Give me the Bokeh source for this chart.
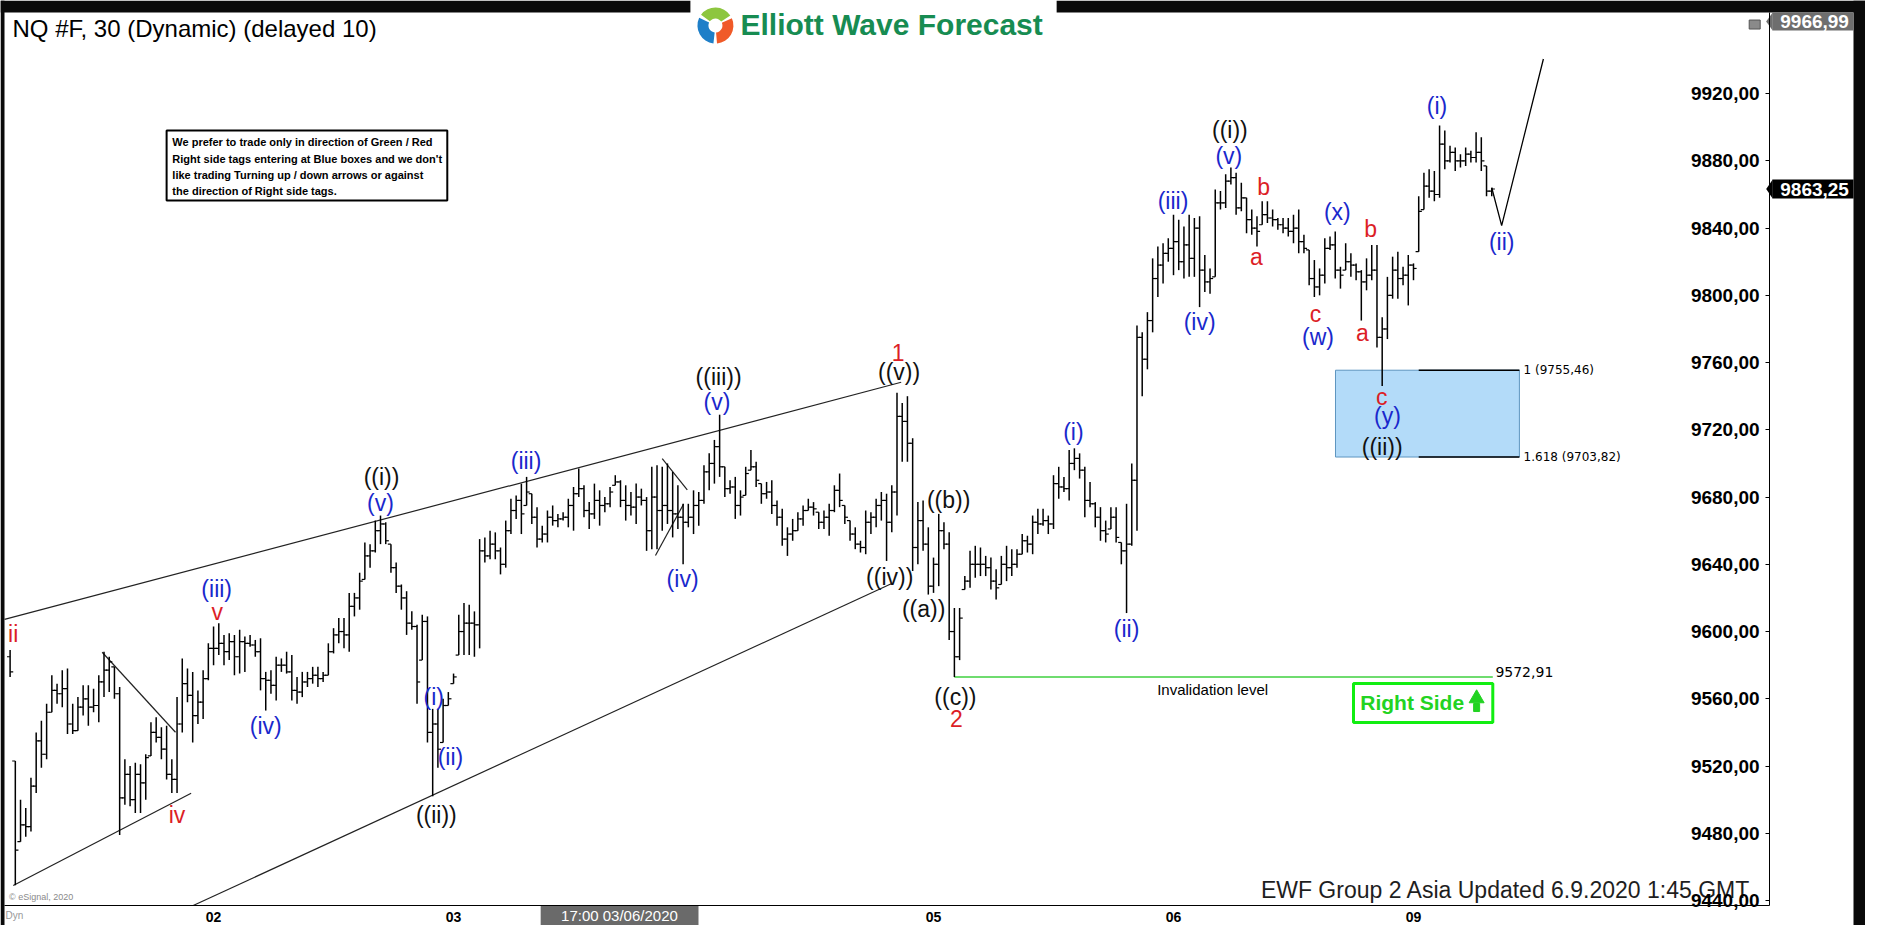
from bokeh.plotting import figure
from bokeh.models import Range1d, FixedTicker, ColumnDataSource
from bokeh.core.properties import value
from bokeh.embed import file_html
from bokeh.resources import INLINE

# ---------------- data (30-minute bars) ----------------
highs = [
    9589, 9523, 9500, 9495, 9513, 9540, 9547, 9557, 9574, 9569,
    9577, 9578, 9557, 9561, 9568, 9568, 9566, 9574, 9588, 9585,
    9579, 9567, 9524, 9520, 9522, 9521, 9527, 9546, 9549, 9543,
    9544, 9524, 9561, 9584, 9578, 9576, 9565, 9577, 9593, 9603,
    9605, 9598, 9599, 9598, 9601, 9597, 9598, 9595, 9596, 9576,
    9577, 9585, 9584, 9588, 9586, 9573, 9576, 9576, 9579, 9579,
    9576, 9593, 9602, 9608, 9608, 9623, 9623, 9635, 9653, 9652,
    9666, 9669, 9665, 9652, 9641, 9628, 9624, 9612, 9604, 9610,
    9609, 9554, 9554, 9560, 9564, 9575, 9610, 9617, 9616, 9612,
    9655, 9656, 9660, 9659, 9650, 9666, 9679, 9681, 9688, 9692,
    9682, 9674, 9663, 9672, 9675, 9670, 9671, 9679, 9686, 9697,
    9687, 9677, 9688, 9684, 9680, 9686, 9693, 9690, 9687, 9683,
    9688, 9685, 9680, 9698, 9699, 9698, 9700, 9695, 9687, 9676,
    9676, 9684, 9683, 9699, 9706, 9714, 9729, 9698, 9690, 9692,
    9684, 9698, 9708, 9701, 9688, 9689, 9690, 9678, 9673, 9662,
    9667, 9671, 9675, 9679, 9677, 9671, 9672, 9676, 9687, 9694,
    9675, 9666, 9662, 9654, 9672, 9671, 9679, 9683, 9682, 9687,
    9742, 9736, 9740, 9715, 9677, 9678, 9662, 9644, 9670, 9665,
    9659, 9614, 9614, 9633, 9648, 9651, 9650, 9645, 9644, 9637,
    9645, 9651, 9649, 9649, 9658, 9657, 9669, 9673, 9673, 9669,
    9693, 9698, 9692, 9708, 9709, 9706, 9698, 9689, 9677, 9674,
    9666, 9674, 9674, 9653, 9676, 9700, 9782, 9778, 9790, 9822,
    9829, 9831, 9834, 9848, 9845, 9841, 9848, 9846, 9847, 9824,
    9816, 9863, 9862, 9872, 9876, 9873, 9867, 9858, 9851, 9847,
    9856, 9856, 9851, 9846, 9846, 9846, 9848, 9851, 9836, 9827,
    9821, 9816, 9834, 9835, 9838, 9817, 9831, 9825, 9819, 9815,
    9822, 9830, 9830, 9787, 9811, 9823, 9826, 9817, 9824, 9819,
    9859, 9873, 9875, 9874, 9901, 9898, 9889, 9888, 9884, 9888,
    9886, 9897, 9894, 9877, 9864,
]
lows = [
    9573, 9449, 9475, 9478, 9481, 9504, 9519, 9524, 9552, 9557,
    9555, 9539, 9539, 9541, 9550, 9544, 9552, 9546, 9561, 9564,
    9560, 9479, 9497, 9496, 9492, 9492, 9500, 9526, 9534, 9524,
    9512, 9504, 9504, 9540, 9558, 9534, 9545, 9548, 9571, 9580,
    9586, 9580, 9583, 9574, 9575, 9576, 9591, 9585, 9565, 9553,
    9563, 9559, 9576, 9575, 9559, 9557, 9561, 9567, 9569, 9567,
    9570, 9574, 9587, 9593, 9590, 9588, 9609, 9613, 9631, 9638,
    9647, 9652, 9652, 9635, 9623, 9613, 9598, 9601, 9557, 9583,
    9534, 9502, 9519, 9534, 9556, 9569, 9586, 9586, 9586, 9585,
    9590, 9641, 9643, 9643, 9634, 9638, 9658, 9667, 9658, 9675,
    9664, 9650, 9653, 9653, 9663, 9662, 9666, 9662, 9660, 9680,
    9668, 9661, 9667, 9663, 9671, 9674, 9687, 9674, 9666, 9669,
    9664, 9675, 9648, 9649, 9649, 9660, 9664, 9656, 9661, 9640,
    9662, 9658, 9663, 9676, 9684, 9688, 9692, 9680, 9682, 9667,
    9669, 9681, 9696, 9686, 9676, 9679, 9670, 9663, 9651, 9645,
    9654, 9660, 9663, 9672, 9669, 9661, 9661, 9657, 9671, 9674,
    9664, 9654, 9649, 9647, 9646, 9658, 9662, 9666, 9642, 9659,
    9669, 9701, 9701, 9636, 9640, 9648, 9622, 9623, 9627, 9649,
    9595, 9572.91, 9583, 9625, 9626, 9632, 9633, 9633, 9625, 9619,
    9628, 9630, 9633, 9638, 9646, 9647, 9646, 9658, 9663, 9658,
    9661, 9679, 9683, 9678, 9696, 9691, 9668, 9674, 9662, 9654,
    9653, 9661, 9653, 9640, 9611, 9651, 9660, 9740, 9756, 9778,
    9799, 9807, 9820, 9812, 9815, 9810, 9811, 9811, 9793, 9802,
    9801, 9811, 9851, 9852, 9866, 9848, 9850, 9837, 9836, 9829,
    9842, 9843, 9841, 9839, 9837, 9835, 9831, 9825, 9825, 9806,
    9799, 9800, 9807, 9827, 9810, 9804, 9815, 9811, 9809, 9785,
    9803, 9809, 9769, 9746, 9774, 9798, 9798, 9806, 9794, 9809,
    9826, 9851, 9858, 9856, 9858, 9875, 9879, 9874, 9876, 9877,
    9879, 9879, 9874, 9859, 9859,
]
closes = [
    9576, 9470, 9485, 9484, 9508, 9535, 9527, 9552, 9565, 9563,
    9566, 9545, 9541, 9555, 9560, 9555, 9556, 9570, 9577, 9582,
    9563, 9501, 9515, 9500, 9515, 9510, 9525, 9540, 9537, 9530,
    9515, 9512, 9545, 9569, 9562, 9550, 9558, 9572, 9590, 9590,
    9593, 9588, 9594, 9585, 9594, 9593, 9592, 9588, 9572, 9571,
    9568, 9580, 9580, 9576, 9565, 9564, 9570, 9572, 9574, 9572,
    9574, 9588, 9598, 9600, 9598, 9615, 9620, 9630, 9645, 9648,
    9660, 9664, 9654, 9638, 9627, 9620, 9605, 9603, 9570, 9606,
    9540, 9545, 9530, 9556, 9560, 9573, 9600, 9605, 9605, 9604,
    9648, 9645, 9652, 9648, 9640, 9660, 9672, 9678, 9670, 9683,
    9668, 9655, 9658, 9668, 9666, 9667, 9668, 9675, 9682, 9685,
    9672, 9670, 9678, 9675, 9676, 9683, 9689, 9678, 9675, 9674,
    9680, 9678, 9660, 9680, 9672, 9675, 9672, 9670, 9668, 9665,
    9668, 9675, 9678, 9695, 9700, 9710, 9698, 9685, 9686, 9675,
    9680, 9694, 9698, 9690, 9682, 9683, 9675, 9668, 9655, 9658,
    9660, 9667, 9672, 9674, 9673, 9665, 9668, 9672, 9684, 9678,
    9668, 9658, 9652, 9650, 9665, 9668, 9675, 9678, 9665, 9683,
    9728, 9725, 9712, 9650, 9666, 9652, 9627, 9640, 9660, 9652,
    9600, 9585, 9608, 9630, 9640, 9640, 9640, 9638, 9630, 9626,
    9640, 9638, 9640, 9646, 9654, 9652, 9665, 9664, 9666, 9664,
    9688, 9686, 9685, 9700, 9703, 9696, 9678, 9676, 9668, 9660,
    9658, 9668, 9656, 9648, 9652, 9690, 9775, 9762, 9785, 9810,
    9818, 9825, 9828, 9832, 9820, 9830, 9822, 9840, 9815, 9808,
    9810, 9855, 9855, 9868, 9870, 9852, 9858, 9845, 9840, 9838,
    9848, 9846, 9845, 9842, 9840, 9838, 9840, 9832, 9828, 9810,
    9805, 9812, 9828, 9830, 9815, 9812, 9820, 9818, 9814, 9808,
    9812, 9815, 9775, 9780, 9800, 9815, 9810, 9812, 9818, 9816,
    9850, 9865, 9862, 9860, 9890, 9880, 9885, 9880, 9880, 9884,
    9882, 9885, 9880, 9862, 9863.25,
]
first_open = 9585
assert len(highs) == len(lows) == len(closes) == 285

day_ticks = [39, 85, 177, 223, 269]
day_labels = ["02", "03", "05", "06", "09"]
price_ticks = [9440, 9480, 9520, 9560, 9600, 9640, 9680, 9720, 9760, 9800, 9840, 9880, 9920]
price_labels = ["9440,00", "9480,00", "9520,00", "9560,00", "9600,00", "9640,00", "9680,00",
                "9720,00", "9760,00", "9800,00", "9840,00", "9880,00", "9920,00"]

wave_text = ["ii", "(iii)", "v", "iv", "(iv)", "((i))", "(v)", "(iii)", "(i)", "(ii)", "((ii))",
             "((iii))", "(v)", "(iv)", "1", "((v))", "((iv))", "((b))", "((a))", "((c))", "2",
             "(i)", "(ii)", "(iii)", "(iv)", "((i))", "(v)", "b", "a", "(x)", "b", "c", "(w)",
             "a", "c", "(y)", "((ii))", "(i)", "(ii)"]
wave_x = [0.6, 39.6, 39.7, 32.0, 49.0, 71.2, 71.0, 98.9, 81.2, 84.4, 81.7,
          135.8, 135.5, 128.9, 170.2, 170.4, 168.6, 179.9, 175.1, 181.2, 181.4,
          203.8, 214.0, 222.9, 228.0, 233.8, 233.6, 240.3, 238.9, 254.4, 260.8, 250.2, 250.7,
          259.2, 262.9, 264.0, 263.0, 273.5, 285.9]
wave_y = [9598.8, 9625.4, 9611.5, 9490.6, 9544.1, 9692.2, 9676.4, 9701.7, 9560.9, 9525.2, 9490.6,
          9751.3, 9736.4, 9631.4, 9766.2, 9754.3, 9632.3, 9678.0, 9613.5, 9560.9, 9548.0,
          9718.6, 9601.6, 9856.4, 9784.4, 9898.1, 9882.6, 9864.3, 9822.7, 9849.4, 9839.6, 9789.0, 9775.1,
          9777.5, 9739.8, 9728.1, 9709.7, 9912.7, 9831.6]
RED, BLUE, BLK = "#dc1e26", "#1a28cc", "#111111"
wave_color = [RED, BLUE, RED, RED, BLUE, BLK, BLUE, BLUE, BLUE, BLUE, BLK,
              BLK, BLUE, BLUE, RED, BLK, BLK, BLK, BLK, BLK, RED,
              BLUE, BLUE, BLUE, BLUE, BLK, BLUE, RED, RED, BLUE, RED, RED, BLUE,
              RED, RED, BLUE, BLK, BLUE, BLUE]

notice_lines = ["We prefer to trade only in direction of Green / Red",
                "Right side tags entering at Blue boxes and we don't",
                "like trading Turning up / down arrows or against",
                "the direction of Right side tags."]
notice_y = [9891.1, 9881.2, 9871.3, 9861.8]

fib_levels = [9755.46, 9703.82]
fib_labels = ["1 (9755,46)", "1.618 (9703,82)"]
invalidation = 9572.91
last_price = 9863.25
top_price_text = "9966,99"

# ---------------- figure: the frame covers the whole canvas ----------------
X0, X1 = -1.840, 355.64          # bar-index range across the canvas
Y0, Y1 = 9425.13, 9975.40        # price range across the canvas
AX_X = 337.25                    # where the price axis sits
AX_Y = 9437.03                   # where the date axis sits

p = figure(width=1865, height=925, x_range=Range1d(X0, X1), y_range=Range1d(Y0, Y1),
           output_backend="svg", toolbar_location=None,
           min_border_left=0, min_border_top=0, min_border_right=0, min_border_bottom=0)
p.grid.visible = False
p.outline_line_color = None
p.background_fill_color = "white"
p.border_fill_color = "white"

p.yaxis.fixed_location = AX_X
p.yaxis.bounds = (AX_Y, 9968.25)
p.yaxis.ticker = FixedTicker(ticks=price_ticks)
p.yaxis.major_label_overrides = dict(zip(price_ticks, price_labels))
p.yaxis.major_label_text_font = "Liberation Sans"
p.yaxis.major_label_text_font_size = "19px"
p.yaxis.major_label_text_font_style = "bold"
p.yaxis.major_label_text_color = "black"
p.yaxis.major_tick_out = 4
p.yaxis.major_tick_in = 0
p.yaxis.major_label_standoff = 6
p.yaxis.minor_tick_line_color = None
p.yaxis.axis_line_color = "black"
p.yaxis.major_label_orientation = "horizontal"

p.xaxis.fixed_location = AX_Y
p.xaxis.bounds = (-1.073, AX_X)
p.xaxis.ticker = FixedTicker(ticks=day_ticks)
p.xaxis.major_label_overrides = dict(zip(day_ticks, day_labels))
p.xaxis.major_label_text_font = "Liberation Sans"
p.xaxis.major_label_text_font_size = "14px"
p.xaxis.major_label_text_font_style = "bold"
p.xaxis.major_label_text_color = "black"
p.xaxis.major_tick_line_color = None
p.xaxis.minor_tick_line_color = None
p.xaxis.major_label_standoff = 1
p.xaxis.axis_line_color = "black"

# dark outer frame
p.quad(left=[X0, 200.6, X0, 353.34], right=[130.4, X1, -1.073, X1],
       top=[Y1, Y1, Y1, Y1], bottom=[9968.25, 9968.25, Y0, Y0],
       fill_color="#0a0a0a", line_color=None)

# notice box
p.quad(left=[30.0], right=[83.8], top=[9898.1], bottom=[9856.4], fill_color="white",
       line_color="black", line_width=2)
p.text(x=[31.1] * 4, y=notice_y, text=notice_lines, text_font=value("Liberation Sans"),
       text_font_size="11px", text_font_style="bold", text_color="black", text_baseline="middle")

# blue box and fib lines
p.quad(left=[254.05], right=[289.3], top=[fib_levels[0]], bottom=[fib_levels[1]],
       fill_color="#b3dbf9", line_color="#5e95c0", line_width=1)
p.segment(x0=[270.0, 270.0], y0=fib_levels, x1=[289.3, 289.3], y1=fib_levels,
          line_color="black", line_width=1.6)
p.text(x=[290.1, 290.1], y=fib_levels, text=fib_labels, text_font=value("DejaVu Sans"),
       text_font_size="12px", text_color="black", text_baseline="middle")

# trend lines
p.line([-1.07, 170.8], [9607.2, 9748.3], line_color="#222222", line_width=1.2)
p.line([0.6, 34.7], [9448.9, 9503.8], line_color="#222222", line_width=1.2)
p.line([35.1, 168.9], [AX_Y, 9628.4], line_color="#222222", line_width=1.2)
p.line([17.65, 31.7], [9587.7, 9540.1], line_color="#222222", line_width=1.2)
p.line([125.0, 129.8], [9702.8, 9684.3], line_color="#222222", line_width=1.2)
p.line([123.7, 129.1], [9645.2, 9675.9], line_color="#222222", line_width=1.2)

# invalidation level
p.segment(x0=[181], y0=[invalidation], x1=[284.2], y1=[invalidation], line_color="#3fd13f", line_width=1.5)
p.text(x=[230.5], y=[9565.6], text=["Invalidation level"], text_font=value("Liberation Sans"),
       text_font_size="15px", text_color="black", text_align="center", text_baseline="middle")
p.text(x=[284.7], y=[9575.8], text=["9572,91"], text_font=value("DejaVu Sans"),
       text_font_size="14px", text_color="black", text_baseline="middle")

# right side tag
p.quad(left=[257.5], right=[284.2], top=[9569.1], bottom=[9545.9], fill_color="white",
       line_color="#11ee11", line_width=3)
p.text(x=[258.8], y=[9557.8], text=["Right Side"], text_font=value("Liberation Sans"),
       text_font_size="21px", text_font_style="bold", text_color="#22d322", text_baseline="middle")
p.scatter(x=[281.1], y=[9560.2], marker="triangle", size=15, fill_color="#22d322", line_color="#22d322")
p.rect(x=[281.1], y=[9554.8], width=6, height=8, width_units="screen", height_units="screen",
       fill_color="#22d322", line_color="#22d322")

# OHLC bars
xs = list(range(len(highs)))
opens = [first_open] + closes[:-1]
opens = [min(max(o, lo), hi) for o, lo, hi in zip(opens, lows, highs)]
src = ColumnDataSource(dict(x=xs, h=highs, l=lows, o=opens, c=closes,
                            xl=[i - 0.6 for i in xs], xr=[i + 0.6 for i in xs]))
p.segment("x", "l", "x", "h", source=src, line_color="black", line_width=1.5)
p.segment("xl", "o", "x", "o", source=src, line_color="black", line_width=1.2)
p.segment("x", "c", "xr", "c", source=src, line_color="black", line_width=1.2)

# projection
p.line([284, 285.9, 293.9], [9864, 9841.5, 9940.6], line_color="black", line_width=1.3)

# wave labels
p.text(x=wave_x, y=wave_y, text=wave_text, text_color=wave_color, text_font=value("Liberation Sans"),
       text_font_size="23px", text_align="center", text_baseline="middle")

# header texts
p.text(x=[0.46], y=[9958.7], text=["NQ #F, 30 (Dynamic) (delayed 10)"], text_font=value("Liberation Sans"),
       text_font_size="24px", text_color="black", text_baseline="middle")
p.annular_wedge(x=[135.2] * 3, y=[9960.5] * 3, inner_radius=7, outer_radius=18,
                inner_radius_units="screen", outer_radius_units="screen",
                start_angle=[0.6, 2.7, 4.8], end_angle=[2.5, 4.6, 6.7],
                fill_color=["#8dc63f", "#1e7fc8", "#f05a28"], line_color=None)
p.text(x=[140.0], y=[9961.1], text=["Elliott Wave Forecast"], text_font=value("Liberation Sans"),
       text_font_size="30px", text_font_style="bold", text_color="#178c52", text_baseline="middle")
p.rect(x=[334.4], y=[9961.1], width=11, height=9, width_units="screen", height_units="screen",
       fill_color="#8a8a8a", line_color="#555555")

# footer texts
p.text(x=[333.6], y=[9446.2], text=["EWF Group 2 Asia Updated 6.9.2020 1:45 GMT"],
       text_font=value("Liberation Sans"), text_font_size="23px", text_color="#1e1e1e",
       text_align="right", text_baseline="middle")
p.text(x=[-0.2], y=[9442.0], text=["\u00a9 eSignal, 2020"], text_font=value("Liberation Sans"),
       text_font_size="9px", text_color="#8a8a8a", text_baseline="middle")

# crosshair time tag on the date strip
p.quad(left=[101.7], right=[131.95], top=[AX_Y], bottom=[Y0], fill_color="#6a6a6a", line_color=None)
p.text(x=[116.8], y=[9431.0], text=["17:00 03/06/2020"], text_font=value("Liberation Sans"),
       text_font_size="15px", text_color="white", text_align="center", text_baseline="middle")
p.text(x=[-0.9], y=[9431.0], text=["Dyn"], text_font=value("Liberation Sans"),
       text_font_size="10px", text_color="#999999", text_baseline="middle")

# price tags on the price axis
tag_y = [last_price, 9962.9]
tag_top = [9868.9, 9968.25]
tag_bottom = [9857.6, 9957.55]
tag_text = ["9863,25", top_price_text]
tag_color = ["black", "#6e6e6e"]
p.quad(left=[337.8, 337.8], right=[353.34, 353.34], top=tag_top, bottom=tag_bottom,
       fill_color=tag_color, line_color=None)
p.patches(xs=[[336.6, 337.85, 337.85], [336.6, 337.85, 337.85]],
          ys=[[tag_y[0], tag_top[0], tag_bottom[0]], [tag_y[1], tag_top[1], tag_bottom[1]]],
          fill_color=tag_color, line_color=None)
p.text(x=[339.3, 339.3], y=tag_y, text=tag_text, text_font=value("Liberation Sans"),
       text_font_size="19px", text_font_style="bold", text_color="white", text_baseline="middle")

open("out.html", "w").write(file_html(p, INLINE))
